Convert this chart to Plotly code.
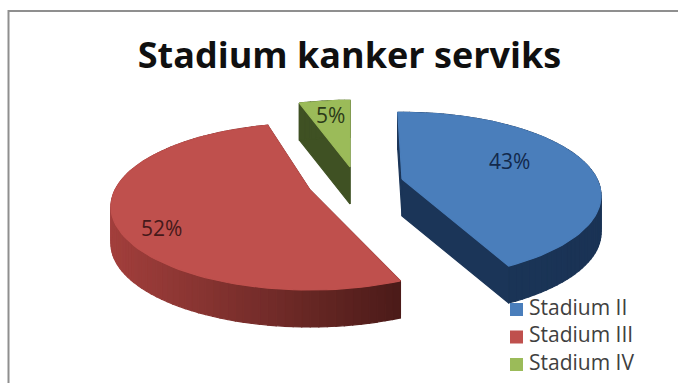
import math
import plotly.graph_objects as go

# Chart content
title_text = "Stadium kanker serviks"
categories = ["Stadium II", "Stadium III", "Stadium IV"]
values = [43, 52, 5]

# Colours per slice
top_colors = ["#4a7ebb", "#bf504d", "#9bbb59"]
wall_near = ["#1b3558", "#a23f3c", "#3f5123"]
wall_far = ["#1a3355", "#4b1b19", "#3f5123"]
label_colors = ["#12294c", "#45191a", "#2c3a18"]

# Pie projection settings
START_DEG = -1.5
RX, RY, PERSPECTIVE = 195.0, 80.0, 0.2
DEPTH = 37.0
apexes = [(402, 179), (310, 190), (350, 167)]
slice_twist = [0.0, 4.5, 1.5]

# Percentage label placement inside each slice
label_radius = [0.625, 0.82, 0.75]
label_turn = [-8.0, -13.7, 0.0]

# Key entries at the lower right
KEY_X = 516.5
KEY_TEXT_X = 529.0
KEY_Y = [309.5, 337, 364.5]


def project(apex, theta_deg, rho=1.0):
    t = math.radians(theta_deg)
    u, v = rho * math.sin(t), rho * math.cos(t)
    d = 1 + PERSPECTIVE * v
    return apex[0] + RX * u / d, apex[1] - RY * v / d


def blend(c1, c2, f):
    a = [int(c1[i:i + 2], 16) for i in (1, 3, 5)]
    b = [int(c2[i:i + 2], 16) for i in (1, 3, 5)]
    return "#%02x%02x%02x" % tuple(round(p + (q - p) * f) for p, q in zip(a, b))


def poly(points, color, name=None):
    return go.Scatter(
        x=[p[0] for p in points] + [points[0][0]],
        y=[p[1] for p in points] + [points[0][1]],
        mode="lines", fill="toself", fillcolor=color,
        line=dict(color=color, width=1.2),
        hoverinfo="skip", showlegend=False, name=name,
    )


fig = go.Figure()
total = sum(values)

# Walk the slices clockwise to find each one's angular span
spans = []
angle = START_DEG
for v, twist in zip(values, slice_twist):
    sweep = 360.0 * v / total
    spans.append((angle + twist, angle + twist + sweep))
    angle += sweep

annotations = []
for i in (2, 1, 0):
    a0, a1 = spans[i]
    apex = apexes[i]
    steps = max(6, int((a1 - a0) / 2))
    arc = [project(apex, a0 + (a1 - a0) * s / steps) for s in range(steps + 1)]
    xs = [p[0] for p in arc]
    xmin, xmax = min(xs), max(xs)

    # Cut faces
    for end in (arc[0], arc[-1]):
        fig.add_trace(poly(
            [apex, end, (end[0], end[1] + DEPTH), (apex[0], apex[1] + DEPTH)],
            wall_near[i] if i != 1 else wall_far[1],
        ))
    # Outer rim, shaded in strips from left to right
    for s in range(steps):
        p, q = arc[s], arc[s + 1]
        f = ((p[0] + q[0]) / 2 - xmin) / max(xmax - xmin, 1)
        shade = blend(wall_near[i], wall_far[i], f)
        fig.add_trace(poly(
            [p, q, (q[0], q[1] + DEPTH), (p[0], p[1] + DEPTH)], shade,
        ))
    # Top face
    fig.add_trace(poly([apex] + arc, top_colors[i], categories[i]))

    mid = (a0 + a1) / 2 + label_turn[i]
    lx, ly = project(apex, mid, label_radius[i])
    annotations.append(dict(
        x=lx, y=ly, text=f"{round(100 * values[i] / total)}%", showarrow=False,
        font=dict(family="Open Sans", size=21, color=label_colors[i]),
    ))

# Key: coloured squares with the stage names
fig.add_trace(go.Scatter(
    x=[KEY_X] * len(categories), y=KEY_Y, mode="markers",
    marker=dict(symbol="square", size=13, color=top_colors),
    hoverinfo="skip", showlegend=False,
))
fig.add_trace(go.Scatter(
    x=[KEY_TEXT_X] * len(categories), y=KEY_Y, mode="text",
    text=categories, textposition="middle right",
    textfont=dict(family="Open Sans", size=21, color="#404040"),
    hoverinfo="skip", showlegend=False,
))

fig.update_layout(
    width=678, height=383, margin=dict(l=0, r=0, t=0, b=0),
    paper_bgcolor="white", plot_bgcolor="white", showlegend=False,
    title=dict(
        text=f"<b>{title_text}</b>", x=349.5 / 678, xanchor="center",
        y=1 - 55 / 383, yanchor="middle",
        font=dict(family="Open Sans", size=36, color="#101010"),
    ),
    xaxis=dict(range=[0, 678], visible=False, fixedrange=True),
    yaxis=dict(range=[383, 0], visible=False, fixedrange=True),
    annotations=annotations,
    shapes=[dict(
        type="rect", xref="x", yref="y", x0=8.5, y0=11, x1=720, y1=420,
        line=dict(color="#8f8f8f", width=2), layer="below",
    )],
)

fig.write_html("out.html", config=dict(displayModeBar=False))
